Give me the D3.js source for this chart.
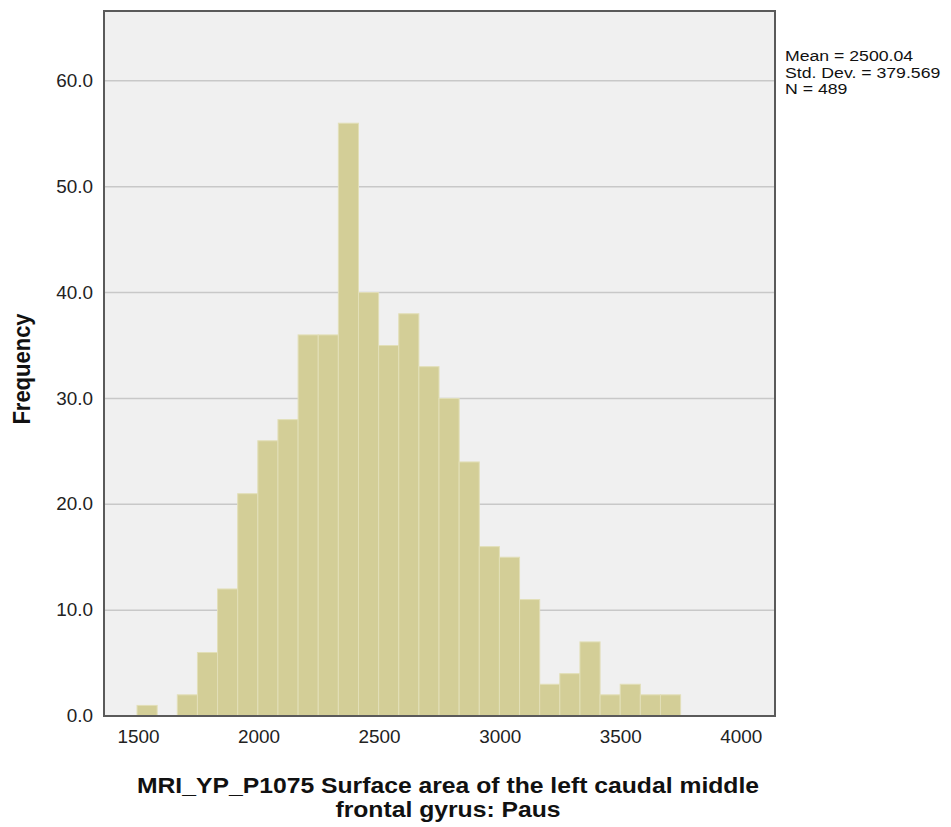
<!DOCTYPE html>
<html>
<head>
<meta charset="utf-8">
<script src="https://cdn.jsdelivr.net/npm/d3@7"></script>
<style>
  body { margin: 0; background: #fff; }
  svg { display: block; font-family: "Liberation Sans", Arial, sans-serif; }
</style>
</head>
<body>
<svg id="chart" width="951" height="827"></svg>
<script>
// ---- data ----
const binStart = 1496;
const binWidth = 83.5;
const counts = [1, 0, 2, 6, 12, 21, 26, 28, 36, 36, 56, 40, 35, 38, 33, 30, 24, 16, 15, 11, 3, 4, 7, 2, 3, 2, 2];
const xTicks = [1500, 2000, 2500, 3000, 3500, 4000];
const yTicks = [0, 10, 20, 30, 40, 50, 60];
const statsLines = ["Mean = 2500.04", "Std. Dev. = 379.569", "N = 489"];
const xTitle = ["MRI_YP_P1075 Surface area of the left caudal middle", "frontal gyrus: Paus"];
const yTitle = "Frequency";

const bins = counts.map((c, i) => ({ x0: binStart + i * binWidth, x1: binStart + (i + 1) * binWidth, n: c }));

// ---- layout ----
const pL = 104, pR = 775, pT = 11, pB = 716;
const sx = 1.08; // horizontal stretch of the reference's text
const svg = d3.select("#chart");

const x = d3.scaleLinear().domain([1359, 4142]).range([pL, pR]);
const y = d3.scaleLinear().domain([0, 66.6]).range([pB, pT]);

// background
svg.append("rect").attr("x", pL).attr("y", pT)
  .attr("width", pR - pL).attr("height", pB - pT).attr("fill", "#f0f0f0");

// gridlines
svg.append("g").selectAll("line").data(yTicks.filter(d => d > 0)).join("line")
  .attr("x1", pL).attr("x2", pR)
  .attr("y1", d => y(d)).attr("y2", d => y(d))
  .attr("stroke", "#c8c8c8").attr("stroke-width", 1.5);

// bars
svg.append("g").selectAll("rect").data(bins.filter(b => b.n > 0)).join("rect")
  .attr("x", d => x(d.x0))
  .attr("width", d => x(d.x1) - x(d.x0))
  .attr("y", d => y(d.n))
  .attr("height", d => y(0) - y(d.n))
  .attr("fill", "#d3ce97")
  .attr("stroke", "#e2dfb8")
  .attr("stroke-width", 1);

// frame
svg.append("rect").attr("x", pL).attr("y", pT)
  .attr("width", pR - pL).attr("height", pB - pT)
  .attr("fill", "none").attr("stroke", "#5a5a5a").attr("stroke-width", 2);

function stretchTicks(sel) {
  sel.each(function () {
    const t = d3.select(this);
    const tx = +t.attr("x") || 0;
    t.attr("x", 0).attr("transform", `translate(${tx},0) scale(${sx},1)`);
  });
}

// y axis
const yAxis = d3.axisLeft(y).tickValues(yTicks).tickFormat(d3.format(".1f")).tickSize(0).tickPadding(11);
const gy = svg.append("g").attr("transform", `translate(${pL},0)`).call(yAxis);
gy.select(".domain").remove();
gy.selectAll("text").attr("font-size", 17.5).attr("fill", "#222")
  .attr("font-family", "Liberation Sans, Arial, sans-serif").call(stretchTicks);

// x axis
const xAxis = d3.axisBottom(x).tickValues(xTicks).tickFormat(d3.format("d")).tickSize(0).tickPadding(15);
const gx = svg.append("g").attr("transform", `translate(0,${pB})`).call(xAxis);
gx.select(".domain").remove();
gx.selectAll("text").attr("font-size", 17.5).attr("fill", "#222")
  .attr("font-family", "Liberation Sans, Arial, sans-serif").call(stretchTicks);

// axis titles
svg.append("text")
  .attr("transform", `translate(30,369) rotate(-90) scale(1,${sx})`)
  .attr("text-anchor", "middle").attr("font-size", 22).attr("font-weight", "bold").attr("fill", "#111")
  .text(yTitle);

svg.append("g").selectAll("text").data(xTitle).join("text")
  .attr("transform", (d, i) => `translate(448,${793 + i * 24}) scale(1.15,1)`)
  .attr("text-anchor", "middle").attr("font-size", 21.5).attr("font-weight", "bold").attr("fill", "#111")
  .text(d => d);

// stats box
svg.append("g").selectAll("text").data(statsLines).join("text")
  .attr("transform", (d, i) => `translate(785,${61 + i * 16.5}) scale(1.14,1)`)
  .attr("font-size", 15.5).attr("fill", "#111")
  .text(d => d);
</script>
</body>
</html>
